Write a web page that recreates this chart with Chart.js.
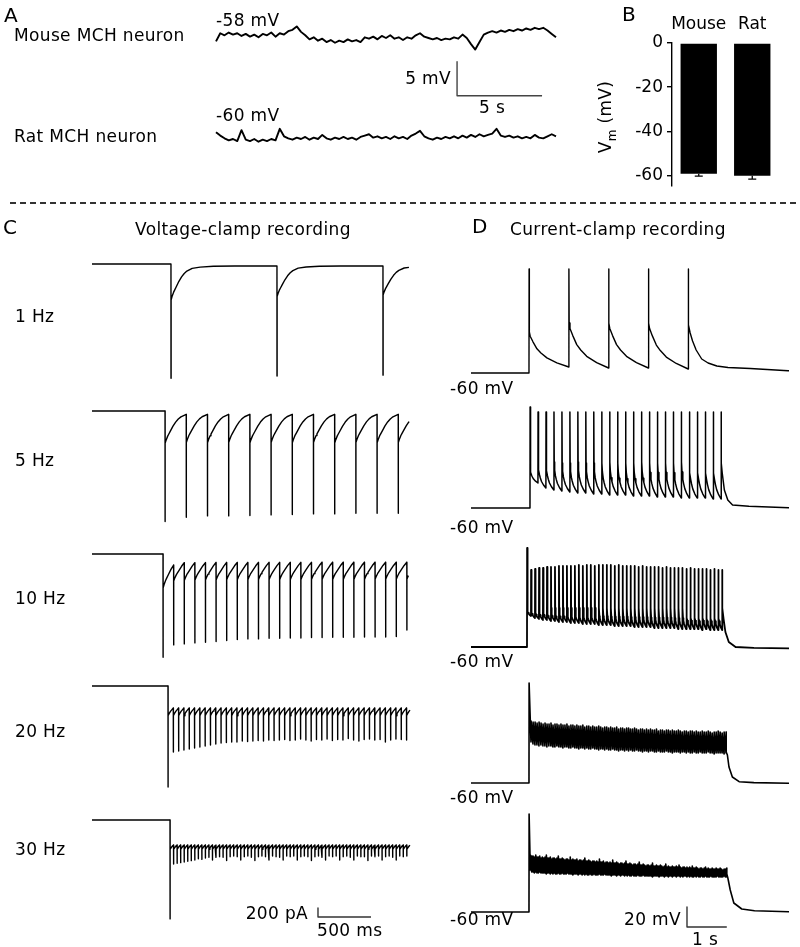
<!DOCTYPE html>
<html><head><meta charset="utf-8">
<script src="https://cdn.jsdelivr.net/npm/chart.js@4.4.1/dist/chart.umd.min.js"></script>
<style>
html,body{margin:0;padding:0;background:#fff;}
#wrap{position:relative;width:800px;height:947px;overflow:hidden;font-family:"DejaVu Sans",sans-serif;color:#000;}
.t{position:absolute;white-space:nowrap;font-size:17px;line-height:17px;letter-spacing:0.35px;}
#traces{position:absolute;left:0;top:0;}
#bars{position:absolute;left:600px;top:0;}
.dash{position:absolute;left:10px;top:202px;width:790px;height:1.5px;background:repeating-linear-gradient(to right,#333 0 6px,transparent 6px 10px);}
</style></head>
<body><div id="wrap">
<canvas id="traces" width="800" height="947"></canvas>
<canvas id="bars" width="200" height="200"></canvas>
<div class="dash"></div>
</div>
<script>
// ---------------- DATA ----------------
// Panel A: resting membrane potential, sampled every 0.25 s over 20 s (mV)
const aStep = 0.25;
const mouseVm = [-58.5,-57.3,-57.6,-57.2,-57.5,-57.3,-57.7,-57.4,-57.8,-57.5,
 -57.9,-57.4,-57.6,-57.2,-57.8,-57.3,-57.5,-57.0,-56.8,-56.3,
 -57.1,-57.6,-58.2,-57.9,-58.4,-58.1,-58.6,-58.3,-58.7,-58.4,
 -58.6,-58.2,-58.5,-58.3,-58.6,-57.9,-58.1,-57.8,-58.2,-57.7,
 -58.0,-57.6,-58.1,-57.9,-58.3,-57.9,-58.1,-57.6,-57.3,-57.8,
 -58.0,-58.2,-58.0,-58.3,-58.1,-58.2,-57.9,-58.1,-57.5,-58.0,
 -58.9,-59.7,-58.6,-57.5,-57.2,-57.0,-57.2,-56.9,-57.1,-56.8,
 -57.0,-56.7,-56.9,-56.6,-56.8,-56.5,-56.7,-56.5,-56.9,-57.4,-57.9];
const ratVm = [-59.0,-59.5,-59.9,-60.2,-60.0,-60.3,-58.7,-60.1,-60.3,-60.0,
 -60.4,-60.1,-60.3,-60.0,-60.2,-58.5,-59.6,-59.9,-60.1,-59.8,
 -60.0,-59.7,-60.1,-59.8,-60.0,-59.4,-59.9,-60.1,-59.8,-60.0,
 -59.7,-60.0,-59.8,-60.1,-59.7,-59.5,-59.3,-59.8,-59.6,-59.9,
 -59.7,-60.0,-59.6,-59.9,-59.7,-60.0,-59.5,-59.2,-58.8,-59.6,
 -59.9,-60.1,-59.8,-60.0,-59.7,-59.9,-59.6,-59.9,-59.5,-59.8,
 -59.4,-59.7,-59.3,-59.6,-59.4,-59.2,-58.5,-59.5,-59.7,-59.5,
 -59.8,-59.6,-59.9,-59.7,-59.9,-59.4,-59.8,-59.9,-59.6,-59.3,-59.6];
const aLabels = ['-58 mV','-60 mV'];

// Panel B
const bCategories = ['Mouse','Rat'];
const bMeans = [-59.2,-60.2];
const bSem = [1.1,1.5];
const bTickStep = 20;

// Panel C: voltage clamp (pA), holding current = 0
const vcFreqs = [1,5,10,20,30];
const vcOnsets = [0.745,0.689,0.670,0.717,0.736];
const vcEnds = [2.99,2.99,2.985,3.0,3.0];
const vcRest = [-44,-27,-5,-221,-318];
const vc1Bottom = [-2540,-2490,-2470];
const vc1Notch = [-800,-726,-690];
const vc5Bottom = [-2457,-2360,-2331,-2331,-2324,-2309,-2302,-2287,-2287,-2271,-2271,-2271];
const vc5Notch = [-717,-700,-705,-700,-710,-700,-705,-700,-710,-700,-705,-700];
const vc10Bottom = [-2294,-2020,-1998,-1976,-1961,-1946,-1924,-1902,-1887,-1887,-1872,-1872,-1865,-1865,-1858,-1858,-1850,-1850,-1850,-1843,-1843,-1843,-1836,-1690];
const vc10Notch = [-755,-600,-590,-585,-580,-580,-575,-575,-575,-570,-570,-570,-570,-570,-565,-565,-565,-565,-565,-565,-560,-560,-560,-560];
const vc20Bottom = [-2244,-1467,-1444,-1422,-1400,-1378,-1356,-1334,-1311,-1289,
 -1267,-1256,-1245,-1245,-1222,-1234,-1222,-1211,-1222,-1200,
 -1211,-1200,-1189,-1211,-1200,-1178,-1200,-1222,-1189,-1200,
 -1178,-1211,-1189,-1200,-1167,-1200,-1222,-1189,-1178,-1200,
 -1189,-1245,-1200,-1178,-1189,-1200];
const vc20Notch = -660;
const vc30Bottom = [-2198,-977,-962,-948,-933,-918,-903,-890,-860,-875,
 -845,-830,-889,-830,-815,-830,-900,-815,-800,-815,
 -889,-815,-800,-830,-900,-815,-800,-815,-889,-800,
 -815,-830,-889,-800,-815,-800,-889,-815,-800,-815,
 -900,-815,-800,-830,-889,-800,-815,-800,-889,-815,
 -800,-830,-889,-800,-815,-815,-900,-800,-815,-800,
 -889,-815,-800,-830,-889,-800,-815,-800];
const vc30Notch = -650;
// recovery after each pulse: [time after pulse (s), fraction of notch remaining]
const vcShape = [[0,1],[0.01,0.9],[0.025,0.77],[0.0333,0.717],[0.05,0.61],[0.075,0.45],[0.1,0.32],[0.125,0.22],[0.15,0.15],[0.2,0.07],[0.275,0.035],[0.4,0.01],[0.6,0]];

// Panel D: current clamp (mV)
const ccBase = -60;
const ccFreqs = [1,5,10,20,30];
const ccOnsets = [1.457,1.482,1.407,1.457,1.457];
const ccEnd = 7.99;
const cc1Peak = [44,44,44,44,44];
const cc1Adp = [-19,-10,-10,-10];
const cc1Trough = [-54,-55,-55,-56];
const cc1Tail = [[0.01,-12],[0.05,-20],[0.11,-28],[0.2,-37],[0.34,-46],[0.5,-50],[0.72,-53],[1.0,-54.5],[1.56,-55.5],[2.51,-57.7]];
const cc5Peak = [41,36,36,36,36,36,36,36,36,36,36,36,36,36,36,36,36,36,36,36,36,36,36,36,36];
const cc5Adp = [-20,-15,-15,-14,-15,-15,-14,-15,-15,-15,-14,-15,-15,-15,-14,-15,-15,-15,-15,-14,-15,-15,-15,-15];
const cc5Trough = [-35,-40,-42,-43,-44,-45,-45,-46,-46,-47,-47,-47,-48,-48,-48,-49,-49,-49,-50,-50,-50,-50,-51,-51];
const cc5Tail = [[0.008,-15],[0.03,-25],[0.084,-42],[0.17,-52],[0.29,-57],[0.7,-58.3],[1.7,-59.7]];
const cc10Peak = [39,17,18,19,19,20,20,20,21,21, 21,21,21,22,21,22,22,21,22,22,
 22,22,21,22,21,21,21,21,20,21, 20,20,20,20,19,20,19,19,19,19, 18,19,18,18,18,18,17,18,17,17];
const cc10Adp = -21;
const cc10Trough = [-29,-31,-32,-33,-33,-34,-34,-35,-35,-35, -36,-36,-36,-37,-37,-37,-37,-38,-38,-38,
 -38,-39,-39,-39,-39,-39,-40,-40,-40,-40, -40,-41,-41,-41,-41,-41,-41,-42,-42,-42, -42,-42,-42,-43,-42,-43,-43,-43,-43];
const cc10Tail = [[0.01,-21],[0.04,-32],[0.085,-45],[0.17,-55],[0.34,-60],[0.8,-60.8],[1.68,-61.3]];
const cc20Peak = [40,2,1,1,0,1,0,-1,0,-1, -1,0,-2,-1,-1,-2,-1,-2,-2,-1,
 -3,-2,-2,-3,-2,-3,-3,-2,-4,-3, -3,-4,-3,-4,-4,-3,-4,-5,-4,-4,
 -5,-4,-5,-5,-4,-6,-5,-5,-6,-5, -5,-6,-6,-5,-6,-7,-6,-6,-7,-6,
 -7,-6,-7,-7,-6,-8,-7,-7,-8,-7, -7,-8,-7,-8,-8,-7,-8,-9,-8,-8,
 -9,-8,-8,-9,-8,-9,-9,-8,-9,-9, -8,-9,-10,-9,-9,-8,-9,-10,-9,-9];
const cc20Trough = [-19,-21,-22,-22,-23,-22,-23,-23,-24,-23, -23,-24,-24,-23,-24,-24,-25,-24,-24,-25,
 -25,-24,-25,-25,-26,-25,-25,-26,-25,-26, -26,-25,-26,-26,-27,-26,-26,-27,-26,-27,
 -27,-26,-27,-27,-28,-27,-27,-28,-27,-28, -27,-28,-28,-27,-28,-28,-29,-28,-28,-29,
 -28,-28,-29,-29,-28,-29,-29,-29,-28,-29, -29,-30,-29,-29,-29,-30,-29,-29,-30,-29,
 -30,-30,-29,-30,-30,-29,-30,-30,-30,-29, -30,-30,-31,-30,-30,-30,-30,-31,-30];
const cc20Tail = [[0.005,-29],[0.035,-32],[0.075,-44],[0.16,-54],[0.33,-58.7],[0.7,-59.6],[1.58,-60.3]];
const cc30Peak = [38,-3,-4,-4,-5,-3,-5,-5,-4,-6, -5,-6,-5,-3,-6,-6,-5,-7,-6,-6,
 -7,-6,-4,-7,-7,-6,-7,-8,-7,-7, -8,-5,-8,-7,-8,-8,-7,-9,-8,-8,
 -9,-8,-6,-9,-9,-8,-9,-10,-9,-9, -10,-9,-10,-7,-10,-10,-9,-11,-10,-10,
 -11,-10,-11,-8,-11,-11,-10,-11,-12,-11, -11,-12,-11,-9,-12,-12,-11,-12,-13,-12,
 -12,-13,-12,-10,-13,-13,-12,-13,-14,-13, -13,-14,-13,-11,-14,-14,-13,-14,-14,-13,
 -14,-15,-14,-12,-15,-14,-15,-15,-14,-15, -15,-14,-15,-13,-15,-16,-15,-15,-16,-15,
 -16,-15,-16,-14,-16,-16,-15,-16,-17,-16, -16,-17,-16,-15,-17,-16,-17,-17,-16,-17,
 -17,-16,-17,-17,-16,-17,-18,-17,-17,-16];
const cc30Trough = [-18,-20,-20,-21,-20,-21,-21,-20,-21,-21, -21,-21,-22,-21,-21,-22,-21,-22,-21,-22,
 -22,-21,-22,-22,-21,-22,-22,-22,-21,-22, -22,-22,-23,-22,-22,-22,-23,-22,-22,-23,
 -22,-23,-22,-23,-23,-22,-23,-23,-22,-23, -23,-23,-22,-23,-23,-23,-22,-23,-23,-23,
 -23,-24,-23,-23,-23,-24,-23,-23,-24,-23, -23,-24,-23,-24,-23,-24,-24,-23,-24,-24,
 -24,-23,-24,-24,-24,-23,-24,-24,-24,-24, -24,-24,-25,-24,-24,-24,-24,-25,-24,-24,
 -24,-25,-24,-24,-25,-24,-24,-25,-24,-24, -25,-24,-24,-25,-24,-25,-24,-24,-25,-24,
 -25,-24,-25,-25,-24,-25,-24,-25,-25,-24, -25,-25,-24,-25,-25,-25,-24,-25,-25,-25,
 -25,-24,-25,-25,-25,-25,-24,-25,-25];
const cc30Tail = [[0.005,-22],[0.03,-26],[0.09,-38],[0.18,-51],[0.38,-57],[0.7,-58.8],[1.56,-59.7]];
// spike after-potential decay, normalised to the inter-spike interval: [fraction of interval, fraction of ADP remaining]
const ccShape = [[0.03,0.88],[0.1,0.72],[0.2,0.52],[0.3,0.4],[0.45,0.26],[0.7,0.12]];

// scale bars (sizes in data units)
const aScaleBar = {t:14.18, v:-66.5, mV:5, s:5};
const cScaleBar = {t:2.132, v:-2156, pA:200, s:0.5};
const dScaleBar = {t:5.427, v:-75, mV:20, s:1};

// ---------------- LAYOUT ----------------
const W = 800, H = 947;
const L = {
  A:{x0:216, pxPerS:17, pxPerMv:6.8, mouseY:38, ratY:139},
  C:{x0:92, pxPerS:106, pxPerPa:0.045, baseY:[264,411,554,686,820]},
  D:{x0:471, pxPerS:39.8, pxPerMv:1, baseY:[373,508,647,783,912], widths:[1.4,1.5,1.8,1.6,1.6]}
};
function xAxisFor(px0, v0, k){ const min = v0 - px0/k; return {type:'linear', display:false, bounds:'data', min:min, max:min + W/k}; }
function yAxisFor(px0, v0, k){ const max = v0 + px0/k; return {type:'linear', display:false, bounds:'data', min:max - H/k, max:max}; }

function shapeAt(tbl, dt){
  if (dt <= tbl[0][0]) return tbl[0][1];
  for (let i=1;i<tbl.length;i++){ if (dt <= tbl[i][0]) { const a=tbl[i-1], b=tbl[i]; return a[1] + (b[1]-a[1])*(dt-a[0])/(b[0]-a[0]); } }
  return tbl[tbl.length-1][1];
}
function buildVC(onset, freq, bottoms, notch, rest, tEnd){
  const per = 1/freq, pts = [{x:0,y:0},{x:onset,y:0}];
  bottoms.forEach((b,k)=>{
    const t = onset + k*per;
    const N = Array.isArray(notch) ? notch[k] : notch;
    const next = k < bottoms.length-1 ? t+per : tEnd;
    pts.push({x:t+0.0004, y:b});
    pts.push({x:t+0.0012, y:N});
    vcShape.forEach(([dt,f])=>{ if (dt > 0.0012 && t+dt < next-0.0006) pts.push({x:t+dt, y:rest+(N-rest)*f}); });
    pts.push({x:next, y:rest+(N-rest)*shapeAt(vcShape, next-t)});
  });
  return pts;
}
function buildCC(onset, freq, peaks, adp, troughs, tail, base, tEnd){
  const per = 1/freq, pts = [{x:0,y:base},{x:onset,y:base}];
  const n = peaks.length;
  peaks.forEach((p,k)=>{
    const t = onset + k*per;
    pts.push({x:t+0.003, y:p});
    if (k < n-1){
      const tr = troughs[k];
      if (adp !== null){
        const A = Array.isArray(adp) ? adp[k] : adp;
        pts.push({x:t+0.009, y:A});
        ccShape.forEach(([u,g])=>{ if (u*per > 0.012) pts.push({x:t+u*per, y:tr+(A-tr)*g}); });
      }
      pts.push({x:t+per, y:tr});
    } else {
      tail.forEach(([dt,v])=>pts.push({x:t+dt, y:v}));
      pts.push({x:tEnd, y:tail[tail.length-1][1]});
    }
  });
  return pts;
}

const scales = {
  xA: xAxisFor(L.A.x0, 0, L.A.pxPerS),
  yMouse: yAxisFor(L.A.mouseY, -58, L.A.pxPerMv),
  yRat: yAxisFor(L.A.ratY, -60, L.A.pxPerMv),
  xC: xAxisFor(L.C.x0, 0, L.C.pxPerS),
  xD: xAxisFor(L.D.x0, 0, L.D.pxPerS)
};
L.C.baseY.forEach((py,i)=>{ scales['yC'+i] = yAxisFor(py, 0, L.C.pxPerPa); });
L.D.baseY.forEach((py,i)=>{ scales['yD'+i] = yAxisFor(py, ccBase, L.D.pxPerMv); });

const trace = (data, xid, yid, w, color) => ({data, xAxisID:xid, yAxisID:yid, borderColor:color||'#000', borderWidth:w, pointRadius:0, pointHoverRadius:0, tension:0, fill:false, borderJoinStyle:'round', borderCapStyle:'butt'});

const vcBottoms = [vc1Bottom, vc5Bottom, vc10Bottom, vc20Bottom, vc30Bottom];
const vcNotches = [vc1Notch, vc5Notch, vc10Notch, vc20Notch, vc30Notch];
const ccPeaks = [cc1Peak, cc5Peak, cc10Peak, cc20Peak, cc30Peak];
const ccAdps = [cc1Adp, cc5Adp, cc10Adp, null, null];
const ccTroughs = [cc1Trough, cc5Trough, cc10Trough, cc20Trough, cc30Trough];
const ccTails = [cc1Tail, cc5Tail, cc10Tail, cc20Tail, cc30Tail];

const datasets = [];
datasets.push(trace(mouseVm.map((v,i)=>({x:i*aStep, y:v})), 'xA', 'yMouse', 1.9));
datasets.push(trace(ratVm.map((v,i)=>({x:i*aStep, y:v})), 'xA', 'yRat', 1.9));
datasets.push(trace([{x:aScaleBar.t, y:aScaleBar.v+aScaleBar.mV},{x:aScaleBar.t, y:aScaleBar.v},{x:aScaleBar.t+aScaleBar.s, y:aScaleBar.v}], 'xA', 'yMouse', 1.4, '#444'));
vcFreqs.forEach((f,i)=>{
  datasets.push(trace(buildVC(vcOnsets[i], f, vcBottoms[i], vcNotches[i], vcRest[i], vcEnds[i]), 'xC', 'yC'+i, 1.4));
});
datasets.push(trace([{x:cScaleBar.t, y:cScaleBar.v+cScaleBar.pA},{x:cScaleBar.t, y:cScaleBar.v},{x:cScaleBar.t+cScaleBar.s, y:cScaleBar.v}], 'xC', 'yC4', 1.4, '#333'));
ccFreqs.forEach((f,i)=>{
  datasets.push(trace(buildCC(ccOnsets[i], f, ccPeaks[i], ccAdps[i], ccTroughs[i], ccTails[i], ccBase, ccEnd), 'xD', 'yD'+i, L.D.widths[i]));
});
datasets.push(trace([{x:dScaleBar.t, y:dScaleBar.v+dScaleBar.mV},{x:dScaleBar.t, y:dScaleBar.v},{x:dScaleBar.t+dScaleBar.s, y:dScaleBar.v}], 'xD', 'yD4', 1.4, '#333'));

new Chart(document.getElementById('traces'), {
  type:'line',
  data:{datasets},
  options:{responsive:false, animation:false, events:[], devicePixelRatio:1, layout:{padding:0},
    plugins:{legend:{display:false}, tooltip:{enabled:false}},
    scales}
});

// ---------------- Panel B ----------------
const FONT = '"DejaVu Sans", sans-serif';
const errorBars = {
  id:'errorBars',
  afterDatasetsDraw(chart){
    const ctx = chart.ctx, ys = chart.scales.y, meta = chart.getDatasetMeta(0);
    ctx.save(); ctx.strokeStyle = '#000'; ctx.lineWidth = 1.3;
    meta.data.forEach((bar,i)=>{
      const y0 = ys.getPixelForValue(bMeans[i]), y1 = ys.getPixelForValue(bMeans[i]-bSem[i]);
      ctx.beginPath(); ctx.moveTo(bar.x, y0); ctx.lineTo(bar.x, y1);
      ctx.moveTo(bar.x-4, y1); ctx.lineTo(bar.x+4, y1); ctx.stroke();
    });
    ctx.restore();
  }
};
new Chart(document.getElementById('bars'), {
  type:'bar',
  data:{labels:bCategories, datasets:[{data:bMeans, backgroundColor:'#000', borderWidth:0, barPercentage:0.68, categoryPercentage:1}]},
  options:{responsive:false, animation:false, events:[], devicePixelRatio:1,
    layout:{padding:{left:0, right:21, top:0, bottom:13}},
    plugins:{legend:{display:false}, tooltip:{enabled:false}},
    scales:{
      x:{position:'top', grid:{display:false, drawTicks:false}, border:{display:false},
         ticks:{font:{family:FONT, size:17}, color:'#000', padding:8, autoSkip:false, maxRotation:0, minRotation:0},
         afterFit(a){ a.height = 43; }},
      y:{min:-64.7, max:0, ticks:{stepSize:bTickStep, includeBounds:false, font:{family:FONT, size:17}, color:'#000', padding:4},
         grid:{drawOnChartArea:false, drawTicks:true, tickLength:5, color:'#000', lineWidth:1.4},
         border:{display:true, color:'#000', width:1.4}, afterFit(a){ a.width = 72; }}
    }},
  plugins:[errorBars]
});

// ---------------- TEXT ----------------
const wrap = document.getElementById('wrap');
function addText(txt, x, y, size, align){
  size = size || 17;
  const d = document.createElement('div');
  d.className = 't'; d.style.fontSize = size+'px'; d.style.lineHeight = size+'px';
  d.style.top = (y - size/2)+'px';
  if (align === 'right') d.style.right = (W - x)+'px'; else d.style.left = x+'px';
  d.textContent = txt; wrap.appendChild(d);
}
addText('A', 4, 15, 20);
addText('Mouse MCH neuron', 14, 35.5);
addText(aLabels[0], 216, 20);
addText('Rat MCH neuron', 14, 136);
addText(aLabels[1], 216, 115);
addText(aScaleBar.mV+' mV', 451, 78.5, 17, 'right');
addText(aScaleBar.s+' s', 479, 107.5);
addText('B', 622, 14, 20);
addText('C', 3, 227, 20);
addText('Voltage-clamp recording', 135, 229);
addText('D', 472, 225.5, 20);
addText('Current-clamp recording', 510, 229);
const hzY = [316.7, 460, 598.3, 731.7, 849.3];
vcFreqs.forEach((f,i)=>addText(f+' Hz', 15, hzY[i]));
const mvY = [388, 527, 661, 797, 919];
mvY.forEach(y=>addText(ccBase+' mV', 450, y));
addText(cScaleBar.pA+' pA', 308, 913, 17, 'right');
addText((cScaleBar.s*1000)+' ms', 317, 930);
addText(dScaleBar.mV+' mV', 681, 919, 17, 'right');
addText(dScaleBar.s+' s', 692, 939);
const vt = document.createElement('div');
vt.className = 't';
vt.style.left = '609px'; vt.style.top = '117px';
vt.style.transform = 'translate(-50%,-50%) rotate(-90deg)';
vt.innerHTML = 'V<sub style="font-size:12px">m</sub> (mV)';
wrap.appendChild(vt);
</script>
</body></html>
